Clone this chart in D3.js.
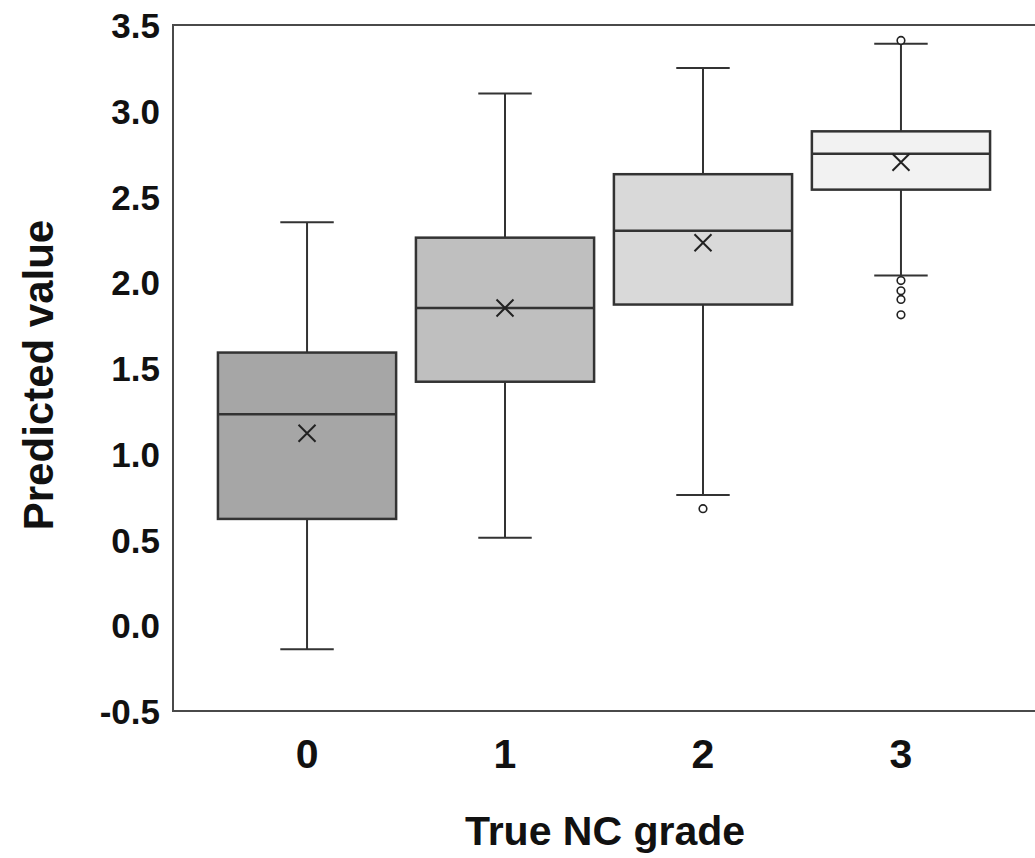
<!DOCTYPE html>
<html>
<head>
<meta charset="utf-8">
<script src="https://cdn.jsdelivr.net/npm/d3@7"></script>
<style>
  body { margin: 0; background: #fff; }
  svg { display: block; }
</style>
</head>
<body>
<div id="canvas"></div>
<script>
// Dimensions.
const WIDTH = 1035;
const HEIGHT = 858;
const PLOT_LEFT = 173;
const PLOT_RIGHT = 1035;
const PLOT_TOP = 25;
const PLOT_BOTTOM = 711;

const STROKE_COLOR = "#333";
const FRAME_COLOR = "#4a4a4a";
const FONT = "'Liberation Sans', Arial, sans-serif";

// Data.
const categories = ["0", "1", "2", "3"];
const whiskerLow = [-0.14, 0.51, 0.76, 2.04];
const q1 = [0.62, 1.42, 1.87, 2.54];
const median = [1.23, 1.85, 2.30, 2.75];
const q3 = [1.59, 2.26, 2.63, 2.88];
const whiskerHigh = [2.35, 3.10, 3.25, 3.39];
const means = [1.12, 1.85, 2.23, 2.70];
const outliers = [[], [], [0.68], [3.41, 2.01, 1.95, 1.90, 1.81]];
const fills = ["#a6a6a6", "#bfbfbf", "#d9d9d9", "#f2f2f2"];
const yTicks = [-0.5, 0.0, 0.5, 1.0, 1.5, 2.0, 2.5, 3.0, 3.5];

const boxes = categories.map((c, i) => ({
    cat: c,
    lo: whiskerLow[i],
    q1: q1[i],
    med: median[i],
    q3: q3[i],
    hi: whiskerHigh[i],
    mean: means[i],
    out: outliers[i],
    fill: fills[i]
}));

const svg = d3.select("#canvas")
                .append("svg")
                .attr("width", WIDTH)
                .attr("height", HEIGHT);

// Scales.
const xScale = d3.scaleBand()
                    .domain(categories)
                    .range([PLOT_LEFT, PLOT_RIGHT])
                    .paddingInner(0)
                    .paddingOuter(0.177);
const yScale = d3.scaleLinear()
                    .domain([-0.5, 3.5])
                    .range([PLOT_BOTTOM, PLOT_TOP]);

const step = xScale.bandwidth();
const boxWidth = step * 0.9;
const capWidth = step * 0.27;
const cx = d => xScale(d.cat) + step / 2;

// Plot frame (right edge falls outside the picture).
svg.append("rect")
    .attr("x", PLOT_LEFT)
    .attr("y", PLOT_TOP)
    .attr("width", PLOT_RIGHT - PLOT_LEFT + 10)
    .attr("height", PLOT_BOTTOM - PLOT_TOP)
    .attr("fill", "none")
    .attr("stroke", FRAME_COLOR)
    .attr("stroke-width", 2);

// Axes.
const yAxisGroup = svg.append("g")
                        .attr("transform", `translate(${PLOT_LEFT - 13}, 0)`)
                        .call(d3.axisLeft(yScale)
                                .tickValues(yTicks)
                                .tickSize(0)
                                .tickPadding(0)
                                .tickFormat(d => d.toFixed(1)));
yAxisGroup.select(".domain").remove();
yAxisGroup.selectAll("text")
    .attr("font-family", FONT)
    .attr("font-size", 35)
    .attr("font-weight", "bold")
    .attr("fill", "#111")
    .attr("dy", "0.36em");

const xAxisGroup = svg.append("g")
                        .attr("transform", `translate(0, ${PLOT_BOTTOM})`)
                        .call(d3.axisBottom(xScale).tickSize(0).tickPadding(28));
xAxisGroup.select(".domain").remove();
xAxisGroup.selectAll("text")
    .attr("font-family", FONT)
    .attr("font-size", 41)
    .attr("font-weight", "bold")
    .attr("fill", "#111");

// Axis titles.
svg.append("text")
    .attr("x", 605)
    .attr("y", 845)
    .attr("text-anchor", "middle")
    .attr("font-family", FONT)
    .attr("font-size", 41)
    .attr("font-weight", "bold")
    .attr("fill", "#111")
    .text("True NC grade");

svg.append("text")
    .attr("transform", "translate(53, 375) rotate(-90)")
    .attr("text-anchor", "middle")
    .attr("font-family", FONT)
    .attr("font-size", 42)
    .attr("font-weight", "bold")
    .attr("fill", "#111")
    .text("Predicted value");

// Box plots.
const groups = svg.selectAll(".box")
                    .data(boxes)
                    .join("g")
                    .attr("class", "box");

// Whiskers.
groups.append("line")
    .attr("x1", cx).attr("x2", cx)
    .attr("y1", d => yScale(d.hi)).attr("y2", d => yScale(d.q3))
    .attr("stroke", STROKE_COLOR).attr("stroke-width", 2);
groups.append("line")
    .attr("x1", cx).attr("x2", cx)
    .attr("y1", d => yScale(d.q1)).attr("y2", d => yScale(d.lo))
    .attr("stroke", STROKE_COLOR).attr("stroke-width", 2);

// Caps.
["hi", "lo"].forEach(key => {
    groups.append("line")
        .attr("x1", d => cx(d) - capWidth / 2)
        .attr("x2", d => cx(d) + capWidth / 2)
        .attr("y1", d => yScale(d[key]))
        .attr("y2", d => yScale(d[key]))
        .attr("stroke", STROKE_COLOR)
        .attr("stroke-width", 2);
});

// Boxes.
groups.append("rect")
    .attr("x", d => cx(d) - boxWidth / 2)
    .attr("y", d => yScale(d.q3))
    .attr("width", boxWidth)
    .attr("height", d => yScale(d.q1) - yScale(d.q3))
    .attr("fill", d => d.fill)
    .attr("stroke", STROKE_COLOR)
    .attr("stroke-width", 2.5);

// Medians.
groups.append("line")
    .attr("x1", d => cx(d) - boxWidth / 2)
    .attr("x2", d => cx(d) + boxWidth / 2)
    .attr("y1", d => yScale(d.med))
    .attr("y2", d => yScale(d.med))
    .attr("stroke", STROKE_COLOR)
    .attr("stroke-width", 2.5);

// Mean markers (x).
const m = 8.5;
groups.append("path")
    .attr("d", d => {
        const x = cx(d), y = yScale(d.mean);
        return `M${x - m},${y - m}L${x + m},${y + m}M${x - m},${y + m}L${x + m},${y - m}`;
    })
    .attr("stroke", "#222")
    .attr("stroke-width", 2)
    .attr("fill", "none");

// Outliers.
groups.selectAll(".outlier")
    .data(d => d.out.map(v => ({ cat: d.cat, v })))
    .join("circle")
    .attr("class", "outlier")
    .attr("cx", cx)
    .attr("cy", d => yScale(d.v))
    .attr("r", 3.8)
    .attr("fill", "#fff")
    .attr("stroke", "#222")
    .attr("stroke-width", 1.6);
</script>
</body>
</html>
